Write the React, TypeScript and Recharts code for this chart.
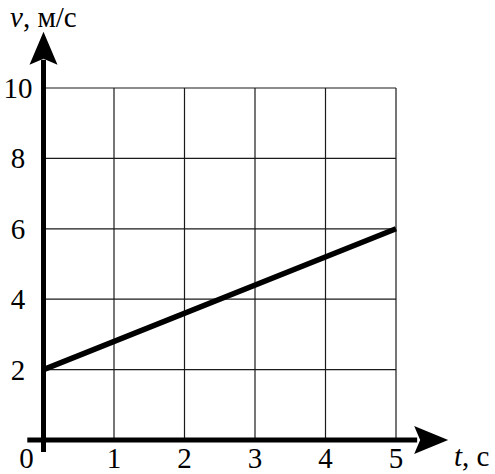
import { LineChart, Line, XAxis, YAxis, CartesianGrid, ReferenceLine, ReferenceDot } from 'recharts'

// v(t) — speed grows linearly from 2 to 6 m/s over 5 s
const TIME = [0, 5]
const SPEED = [2, 6]
const T_TICKS = [0, 1, 2, 3, 4, 5]
const V_TICKS = [2, 4, 6, 8, 10]

// axis extents (in data units) beyond the grid, for the arrows
const T_AXIS = [-0.23, 5.3]
const V_AXIS = [-0.34, 10.8]
const T_ARROW_TIP = 5.74
const V_ARROW_TIP = 11.6

const FONT = '"Liberation Serif", "Times New Roman", serif'

const data = TIME.map((t, i) => ({ t, v: SPEED[i] }))

const XTick = ({ x, y, payload }: any) => (
  <text
    x={payload.value === 0 ? x - 17 : x}
    y={y + 28}
    textAnchor="middle"
    fontFamily={FONT}
    fontSize={29}
    fill="#000"
  >
    {payload.value}
  </text>
)

const YTick = ({ x, y, payload }: any) => (
  <text x={x - 25.5} y={y + 10} textAnchor="middle" fontFamily={FONT} fontSize={29} fill="#000">
    {payload.value}
  </text>
)

const ArrowUp = ({ cx, cy }: any) => (
  <polygon points={`${cx},${cy} ${cx - 14},${cy + 33} ${cx},${cy + 27} ${cx + 14},${cy + 33}`} fill="#000" />
)

const ArrowRight = ({ cx, cy }: any) => (
  <polygon points={`${cx},${cy} ${cx - 34},${cy - 14} ${cx - 28},${cy} ${cx - 34},${cy + 14}`} fill="#000" />
)

const labelStyle = {
  position: 'absolute' as const,
  fontFamily: FONT,
  fontSize: 29,
  lineHeight: '29px',
  whiteSpace: 'nowrap' as const,
}

export default function App() {
  return (
    <div style={{ position: 'absolute', left: 0, top: 0, width: 495, height: 474, background: '#fff' }}>
      <LineChart width={495} height={474} data={data} margin={{ top: 88, right: 99, left: 0, bottom: 4 }}>
        <CartesianGrid stroke="#1a1a1a" strokeWidth={1.2} />
        <XAxis
          dataKey="t"
          type="number"
          domain={[0, 5]}
          ticks={T_TICKS}
          axisLine={false}
          tickLine={false}
          tickSize={0}
          tickMargin={0}
          height={30}
          tick={<XTick />}
        />
        <YAxis
          type="number"
          domain={[0, 10]}
          ticks={V_TICKS}
          axisLine={false}
          tickLine={false}
          tickSize={0}
          tickMargin={0}
          width={43.5}
          tick={<YTick />}
        />
        <Line
          dataKey="v"
          type="linear"
          stroke="#000"
          strokeWidth={5.5}
          dot={false}
          isAnimationActive={false}
        />
        <ReferenceLine
          segment={[{ x: T_AXIS[0], y: 0 }, { x: T_AXIS[1], y: 0 }]}
          stroke="#000"
          strokeWidth={5}
          ifOverflow="visible"
        />
        <ReferenceLine
          segment={[{ x: 0, y: V_AXIS[0] }, { x: 0, y: V_AXIS[1] }]}
          stroke="#000"
          strokeWidth={5}
          ifOverflow="visible"
        />
        <ReferenceDot x={0} y={V_ARROW_TIP} r={1} ifOverflow="visible" shape={<ArrowUp />} />
        <ReferenceDot x={T_ARROW_TIP} y={0} r={1} ifOverflow="visible" shape={<ArrowRight />} />
      </LineChart>
      <div style={{ ...labelStyle, left: 10, top: 3 }}>
        <i>v</i>, м/с
      </div>
      <div style={{ ...labelStyle, left: 454, top: 442 }}>
        <i>t</i>, с
      </div>
    </div>
  )
}
